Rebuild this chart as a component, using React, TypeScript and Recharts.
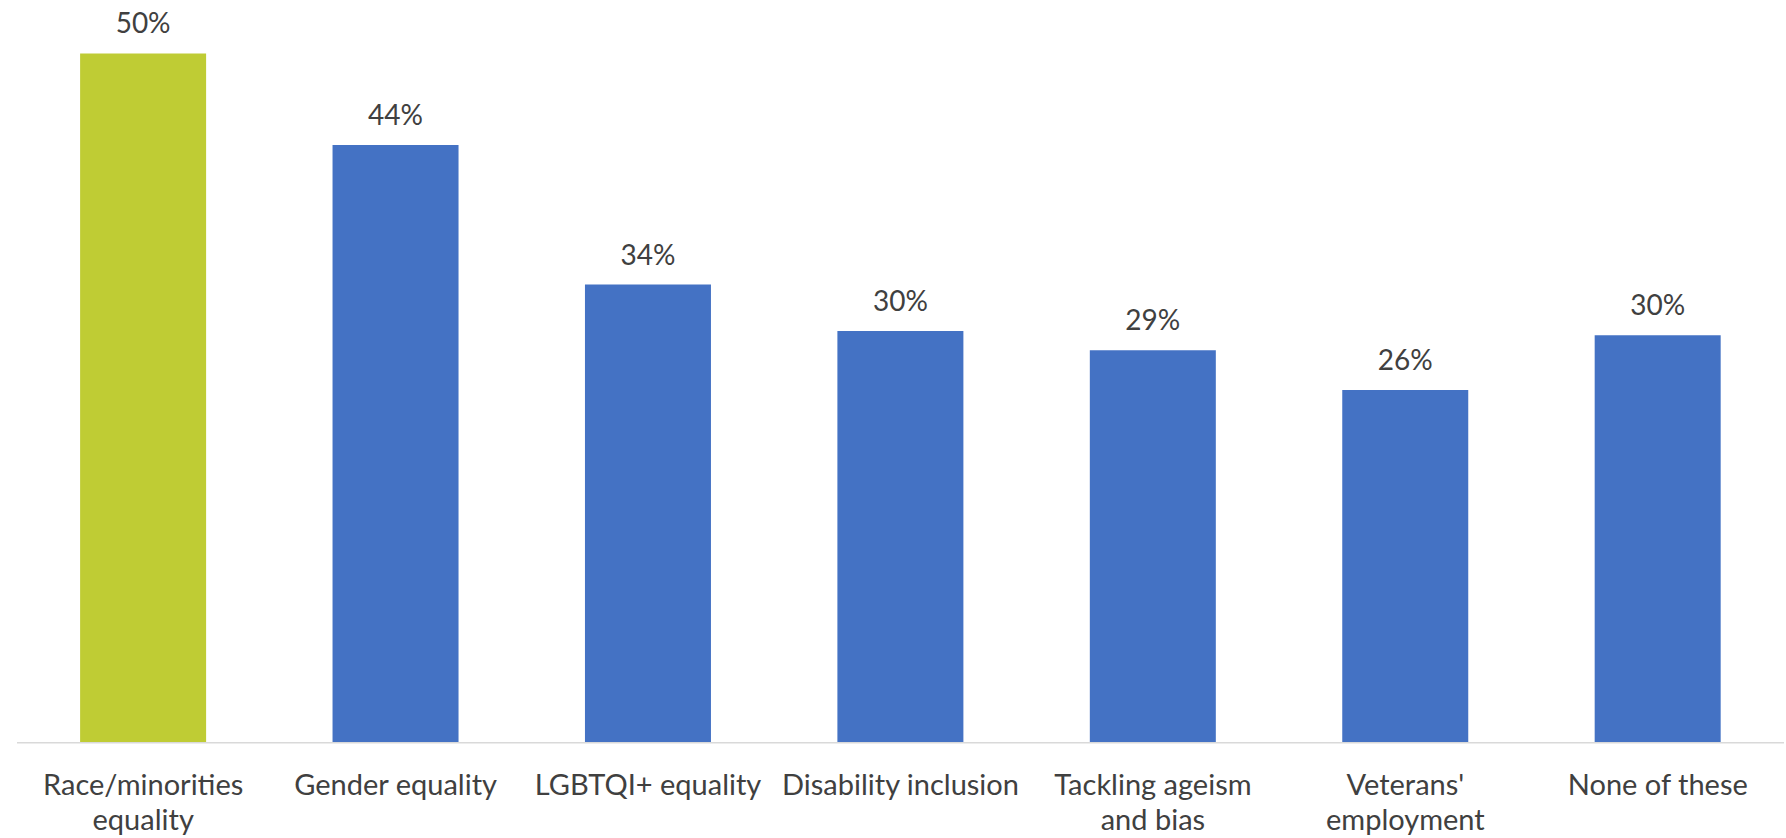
import React from "react";
import { BarChart, Bar, XAxis, YAxis, Cell, LabelList } from "recharts";

// Categories (line breaks as in the original chart)
const categories = [
  "Race/minorities\nequality",
  "Gender equality",
  "LGBTQI+ equality",
  "Disability inclusion",
  "Tackling ageism\nand bias",
  "Veterans'\nemployment",
  "None of these",
];

// Share of respondents, in percent
const values = [50.4, 43.7, 33.5, 30.1, 28.7, 25.8, 29.8];

const barColors = ["#BFCC34", "#4472C4", "#4472C4", "#4472C4", "#4472C4", "#4472C4", "#4472C4"];

const data = categories.map((name, i) => ({ name, value: values[i] }));

const FONT = "Lato, 'Open Sans', sans-serif";
const TEXT_COLOR = "#404040";

function WrappedTick(props: any) {
  const { x, y, payload } = props;
  const lines = String(payload.value).split("\n");
  return (
    <text x={x} y={y} textAnchor="middle" fill={TEXT_COLOR} fontSize={29} fontFamily={FONT}>
      {lines.map((line, i) => (
        <tspan key={i} x={x} dy={i === 0 ? 44 : 35}>
          {line}
        </tspan>
      ))}
    </text>
  );
}

export default function App() {
  return (
    <div style={{ position: "absolute", left: 0, top: 0, width: 1786, height: 838, background: "#fff" }}>
      <BarChart
        width={1786}
        height={838}
        data={data}
        barCategoryGap="25%"
        margin={{ top: 31.6, right: 2, bottom: 5, left: 17 }}
      >
        <XAxis
          dataKey="name"
          interval={0}
          height={90.3}
          tickLine={false}
          axisLine={{ stroke: "#D9D9D9", strokeWidth: 1.5 }}
          tick={<WrappedTick />}
        />
        <YAxis hide domain={[0, 52]} />
        <Bar dataKey="value" isAnimationActive={false}>
          {data.map((_, i) => (
            <Cell key={i} fill={barColors[i]} />
          ))}
          <LabelList
            dataKey="value"
            position="top"
            offset={20}
            formatter={(v: any) => `${Math.round(Number(v))}%`}
            style={{ fill: TEXT_COLOR, fontSize: 28, fontFamily: FONT }}
          />
        </Bar>
      </BarChart>
    </div>
  );
}
